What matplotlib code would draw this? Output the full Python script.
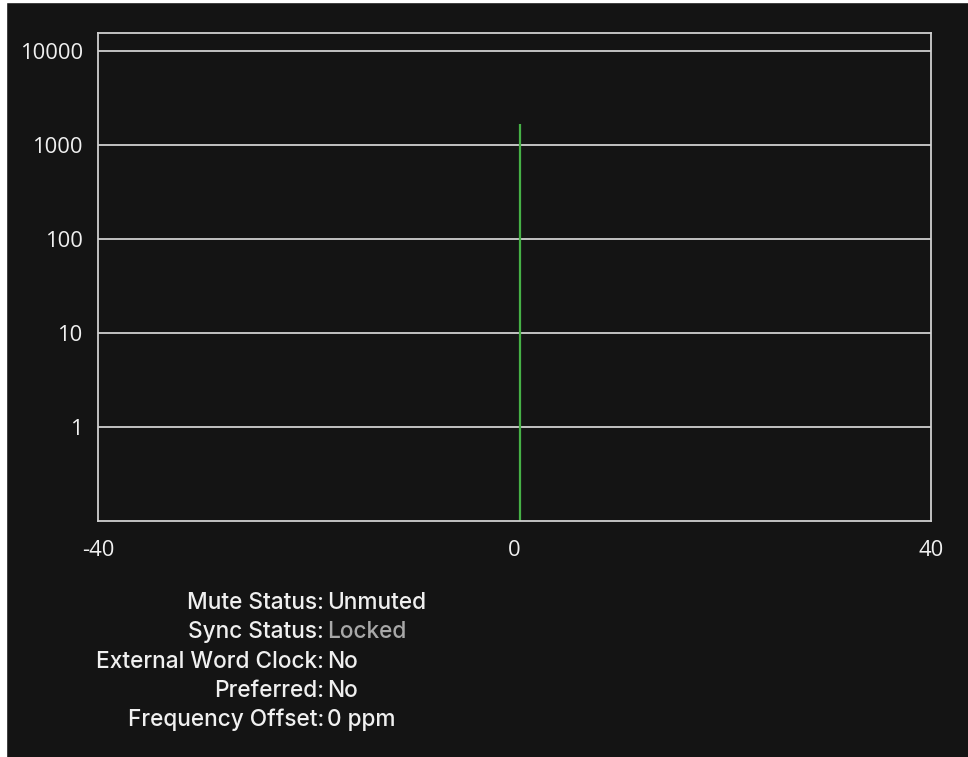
import matplotlib
matplotlib.use("Agg")
import matplotlib.pyplot as plt
from matplotlib.patches import Rectangle

# data
x_ticks = [-40, 0, 40]
y_ticks = [1, 10, 100, 1000, 10000]
y_tick_labels = ["1", "10", "100", "1000", "10000"]
offset_ppm = [0.5]
offset_count = [1650]
y_floor = 0.1

status_labels = ["Mute Status:", "Sync Status:", "External Word Clock:",
                 "Preferred:", "Frequency Offset:"]
status_values = ["Unmuted", "Locked", "No", "No", "0 ppm"]
status_colors = ["#f0f0f0", "#a8a8a8", "#f0f0f0", "#f0f0f0", "#f0f0f0"]

bg = "#141414"
fg = "#d0d0d0"

fig = plt.figure(figsize=(9.68, 7.57), dpi=100, facecolor=bg)
ax = fig.add_axes([98 / 968, 1 - 521 / 757, (931 - 98) / 968, (521 - 33) / 757])
ax.set_facecolor(bg)

ax.set_yscale("log")
ax.set_xlim(-40, 40)
ax.set_ylim(y_floor, 15500)

for yv in y_ticks:
    ax.axhline(yv, color=fg, linewidth=1.3, zorder=1)

ax.vlines(offset_ppm, y_floor, offset_count, color="#46b046", linewidth=1.6, zorder=2)

for s in ax.spines.values():
    s.set_color(fg)
    s.set_linewidth(1.3)

ax.set_xticks(x_ticks)
ax.set_xticklabels([str(v) for v in x_ticks])
ax.set_yticks(y_ticks)
ax.set_yticklabels(y_tick_labels)
ax.yaxis.set_minor_locator(matplotlib.ticker.NullLocator())
ax.tick_params(length=0, colors="#f0f0f0", labelsize=15.8)
ax.tick_params(axis="y", pad=11)
ax.tick_params(axis="x", pad=14)
for lab in ax.get_xticklabels() + ax.get_yticklabels():
    lab.set_family("Open Sans")

# status block
y0 = 603
for i, (lab, val, col) in enumerate(zip(status_labels, status_values, status_colors)):
    yy = 1 - (y0 + i * 29.3) / 757
    fig.text(324 / 968, yy, lab, ha="right", va="center", color="#f0f0f0",
             fontsize=16.3, family="Inter", weight="medium")
    fig.text(327 / 968, yy, val, ha="left", va="center", color=col,
             fontsize=16.3, family="Inter", weight="medium")

# light edge strips of the screenshot
fig.patches.append(Rectangle((0, 0), 6 / 968, 1, transform=fig.transFigure,
                             color="white", zorder=-1))
fig.patches.append(Rectangle((0, 1 - 2 / 757), 1, 2 / 757, transform=fig.transFigure,
                             color="white", zorder=-1))

fig.savefig("out.png", dpi=100, facecolor=bg)
